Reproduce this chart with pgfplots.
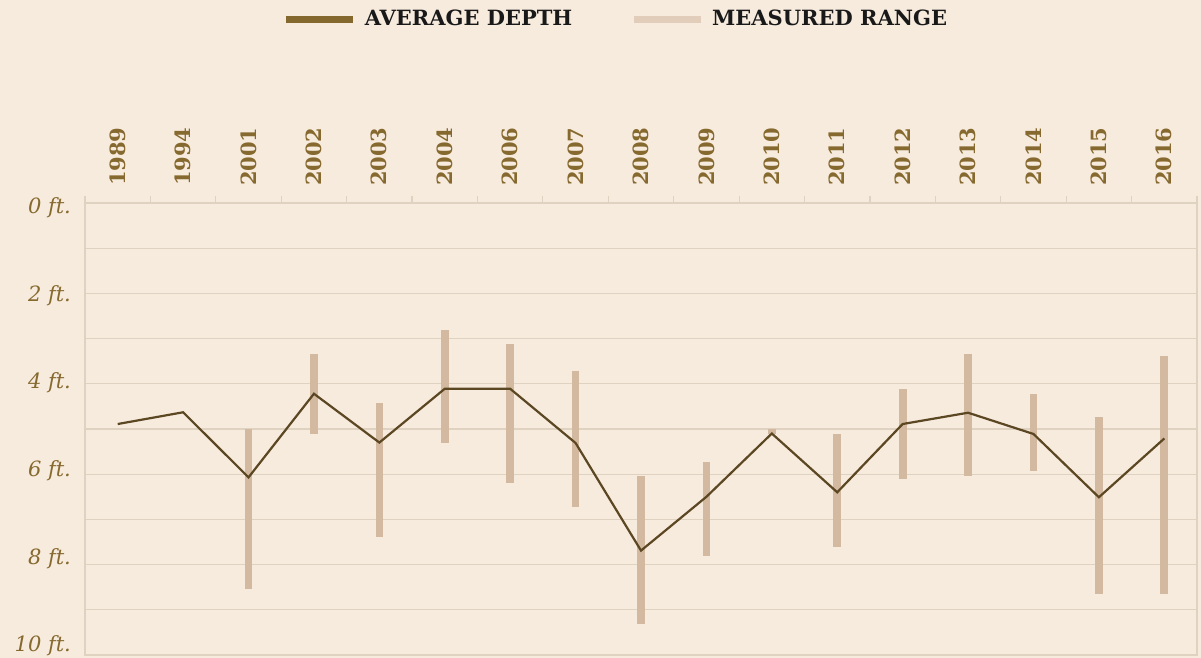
\documentclass[border=0pt]{standalone}
\usepackage{fontspec}
\setmainfont{DejaVu Serif}
\usepackage{pgfplots}
\pgfplotsset{compat=1.18}
\usepackage{pgfplotstable}

\definecolor{bg}{HTML}{F7EBDE}
\definecolor{gridc}{HTML}{E0D2C0}
\definecolor{labc}{HTML}{86692E}
\definecolor{avgc}{HTML}{5C4723}
\definecolor{avgleg}{HTML}{85682D}
\definecolor{rangec}{HTML}{D2B9A0}
\definecolor{rangeleg}{HTML}{E2CCBA}

% average depth, ft
\pgfplotstableread{
x year avg
0  1989 4.89
1  1994 4.63
2  2001 6.07
3  2002 4.22
4  2003 5.30
5  2004 4.11
6  2006 4.11
7  2007 5.31
8  2008 7.69
9  2009 6.50
10 2010 5.10
11 2011 6.40
12 2012 4.89
13 2013 4.64
14 2014 5.11
15 2015 6.51
16 2016 5.21
}\avgdata

% measured range (shallowest, deepest), ft
\pgfplotstableread{
x  lo   hi
2  5.00 8.54
3  3.34 5.10
4  4.43 7.39
5  2.82 5.31
6  3.13 6.19
7  3.71 6.72
8  6.05 9.31
9  5.73 7.80
10 5.00 5.10
11 5.11 7.60
12 4.12 6.10
13 3.33 6.04
14 4.23 5.94
15 4.74 8.64
16 3.38 8.64
}\rangedata

\begin{document}
\begin{tikzpicture}
\path[use as bounding box, fill=bg] (-42.5pt,-1.5pt) rectangle (558pt,327.5pt);
\begin{axis}[
  scale only axis, width=556pt, height=226pt,
  at={(0,0)}, anchor=south west,
  xmin=-0.5, xmax=16.5, ymin=0, ymax=10, y dir=reverse,
  xtick={0,...,16},
  xticklabels={1989,1994,2001,2002,2003,2004,2006,2007,2008,2009,2010,2011,2012,2013,2014,2015,2016},
  minor xtick={-0.5,0.5,...,16.5},
  xtick pos=upper, xticklabel pos=upper,
  major tick length=0pt, minor tick length=3.5pt, tick align=outside,
  minor x tick style={gridc, line width=0.6pt},
  minor y tick style={draw=none},
  xticklabel shift=5pt,
  xticklabel style={rotate=90, anchor=west, font=\bfseries\fontsize{10.5}{12}\selectfont, text=labc},
  ytick={0,2,...,10}, minor ytick={1,3,...,9},
  yticklabels={0 ft.,2 ft.,4 ft.,6 ft.,8 ft.,10 ft.},
  yticklabel style={font=\itshape\fontsize{10.5}{12}\selectfont, text=labc,
    yshift={-2.5pt+1.4pt*\ticknum}},
  yticklabel shift=3.5pt,
  ymajorgrids, yminorgrids,
  major grid style={gridc, line width=0.6pt},
  minor grid style={gridc, line width=0.6pt},
  axis line style={gridc, line width=0.6pt},
  legend columns=2,
  legend style={at={(axis description cs:0.4784,1.407)}, anchor=center,
    draw=none, fill=none, font=\bfseries\fontsize{10.5}{12}\selectfont, text=black!90,
    /tikz/every even column/.append style={column sep=27pt}},
]
\addlegendimage{legend image code/.code={\draw[avgleg, line width=3.5pt] (0pt,0pt) -- (33.5pt,0pt); \path (37pt,0pt);}}
\addlegendentry{AVERAGE DEPTH}
\addlegendimage{legend image code/.code={\draw[rangeleg, line width=3.5pt] (0pt,0pt) -- (33.5pt,0pt); \path (37pt,0pt);}}
\addlegendentry{MEASURED RANGE}

\addplot[draw=none, mark=none, forget plot,
  error bars/.cd, y dir=plus, y explicit, error mark=none,
  error bar style={draw=rangec, line width=3.85pt}]
  table[x=x, y=lo, y error expr=\thisrow{hi}-\thisrow{lo}] {\rangedata};

\addplot[avgc, line width=1.1pt, mark=none, forget plot] table[x=x, y=avg] {\avgdata};
\end{axis}
\end{tikzpicture}
\end{document}
